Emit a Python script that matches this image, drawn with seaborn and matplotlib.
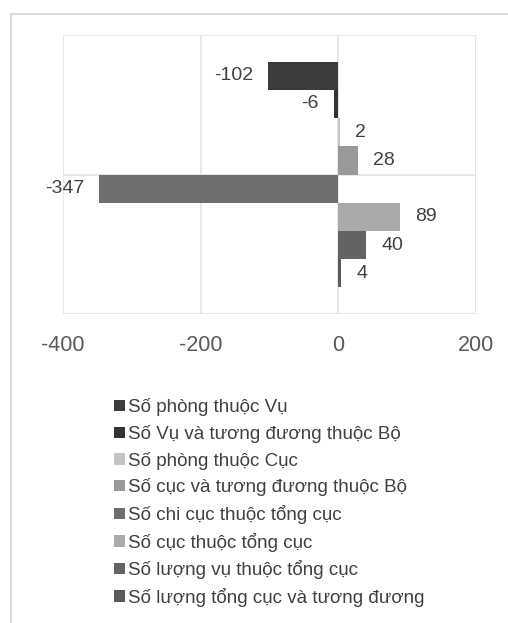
import matplotlib
matplotlib.use('Agg')
import matplotlib.pyplot as plt
import seaborn as sns
from matplotlib.patches import Rectangle

# ── Dữ liệu ───────────────────────────────────────────────────
nhom = [
    'Số phòng thuộc Vụ',
    'Số Vụ và tương đương thuộc Bộ',
    'Số phòng thuộc Cục',
    'Số cục và tương đương thuộc Bộ',
    'Số chi cục thuộc tổng cục',
    'Số cục thuộc tổng cục',
    'Số lượng vụ thuộc tổng cục',
    'Số lượng tổng cục và tương đương',
]
chenh_lech = [-102, -6, 2, 28, -347, 89, 40, 4]
mau = ['#3c3c3c', '#333333', '#c4c4c4', '#999999',
       '#6e6e6e', '#aaaaaa', '#636363', '#5a5a5a']
x_ticks = [-400, -200, 0, 200]

sns.set_style('white')
plt.rcParams['font.family'] = ['Liberation Sans', 'DejaVu Sans']

W, H = 508, 623
fig = plt.figure(figsize=(W / 100, H / 100), dpi=100)
ax = fig.add_axes([63 / W, 1 - 314 / H, (476 - 63) / W, (314 - 35) / H])

# khung ngoài của biểu đồ
fig.patches.append(Rectangle((11 / W, -0.1), 1.2, 1 - 14 / H + 0.1,
                             transform=fig.transFigure, fill=False,
                             edgecolor='#d9d9d9', linewidth=1.5))

sns.barplot(x=chenh_lech, y=nhom, hue=nhom, palette=mau, dodge=False,
            width=1, orient='h', linewidth=0, legend=False, ax=ax)

for cont in ax.containers:
    ax.bar_label(cont, padding=11, fontsize=14, color='#404040')

ax.set_xlim(-400, 200)
ax.set_ylim(8.44, -1.44)
ax.set_xticks(x_ticks)
ax.set_xticklabels([str(t) for t in x_ticks], fontsize=15.5, color='#595959')
ax.tick_params(axis='x', length=0, pad=15)
ax.set_yticks([])
ax.set_xlabel('')
ax.set_ylabel('')
for s in ax.spines.values():
    s.set_visible(False)
for t in x_ticks:
    ax.axvline(t, color='#e3e3e3', linewidth=1.2, zorder=0)
for yy in [-1.44, 3.5, 8.44]:
    ax.axhline(yy, color='#e3e3e3', linewidth=1.2, zorder=0)

# chú giải
handles = [Rectangle((0, 0), 1, 1, facecolor=c, edgecolor='none') for c in mau]
fig.legend(handles, nhom, loc='upper left',
           bbox_to_anchor=(105 / W, 1 - 389 / H), frameon=False,
           fontsize=13.5, labelcolor='#404040', handlelength=0.55,
           handleheight=0.55, handletextpad=0.2, labelspacing=0.46,
           borderpad=0)

fig.savefig('out.png', dpi=100)
